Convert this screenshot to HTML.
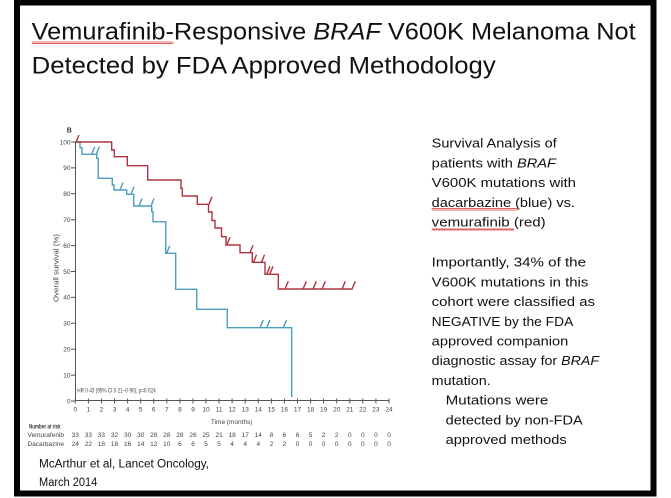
<!DOCTYPE html>
<html><head><meta charset="utf-8">
<style>
html,body{margin:0;padding:0;background:#fff;}
svg{display:block;}
text{font-family:"Liberation Sans",sans-serif;}
</style></head>
<body>
<svg width="671" height="498" viewBox="0 0 671 498" xmlns="http://www.w3.org/2000/svg">
<defs>
<pattern id="sq" x="0" y="0" width="4" height="3" patternUnits="userSpaceOnUse">
<polyline points="0,2.5 1,0.5 2,2.5 3,0.5 4,2.5" fill="none" stroke="#d03030" stroke-width="0.7"/>
</pattern>
</defs>
<rect x="0" y="0" width="671" height="498" fill="#fff"/>
<!-- frame -->
<rect x="17" y="2.5" width="636.5" height="491" fill="none" stroke="#000" stroke-width="6"/>

<!-- title -->
<text x="31.7" y="39.3" font-size="24" fill="#111" textLength="604" lengthAdjust="spacingAndGlyphs">Vemurafinib-Responsive <tspan font-style="italic">BRAF</tspan> V600K Melanoma Not</text>
<text x="31.7" y="73.3" font-size="24" fill="#111" textLength="464" lengthAdjust="spacingAndGlyphs">Detected by FDA Approved Methodology</text>
<rect x="31.7" y="41" width="141.6" height="3" fill="url(#sq)"/>

<!-- right text -->
<g font-size="12.5" fill="#111">
<text x="431.7" y="147.7" textLength="125" lengthAdjust="spacingAndGlyphs">Survival  Analysis of</text>
<text x="431.7" y="167.4" textLength="124.3" lengthAdjust="spacingAndGlyphs">patients with <tspan font-style="italic">BRAF</tspan></text>
<text x="431.7" y="187.1" textLength="144.3" lengthAdjust="spacingAndGlyphs">V600K  mutations  with</text>
<text x="431.7" y="206.8" textLength="143.3" lengthAdjust="spacingAndGlyphs">dacarbazine  (blue) vs.</text>
<text x="431.7" y="226.5" textLength="114" lengthAdjust="spacingAndGlyphs">vemurafinib  (red)</text>
<text x="431.7" y="266.7" textLength="154.3" lengthAdjust="spacingAndGlyphs">Importantly,  34% of the</text>
<text x="431.7" y="286.4" textLength="156.6" lengthAdjust="spacingAndGlyphs">V600K  mutations  in this</text>
<text x="431.7" y="306.1" textLength="163.3" lengthAdjust="spacingAndGlyphs">cohort  were classified as</text>
<text x="431.7" y="325.8" textLength="141.6" lengthAdjust="spacingAndGlyphs">NEGATIVE  by the FDA</text>
<text x="431.7" y="345.5" textLength="136.6" lengthAdjust="spacingAndGlyphs">approved  companion</text>
<text x="431.7" y="365.2" textLength="167.3" lengthAdjust="spacingAndGlyphs">diagnostic assay for <tspan font-style="italic">BRAF</tspan></text>
<text x="431.7" y="384.9" textLength="59" lengthAdjust="spacingAndGlyphs">mutation.</text>
<text x="445.7" y="404.6" textLength="102.6" lengthAdjust="spacingAndGlyphs">Mutations  were</text>
<text x="445.7" y="424.3" textLength="137" lengthAdjust="spacingAndGlyphs">detected  by non-FDA</text>
<text x="445.7" y="444" textLength="121" lengthAdjust="spacingAndGlyphs">approved  methods</text>
</g>
<rect x="431.7" y="208" width="86.6" height="3" fill="url(#sq)"/>
<rect x="431.7" y="228" width="82.3" height="3" fill="url(#sq)"/>

<!-- citation -->
<text x="39" y="467.3" font-size="11.5" fill="#111" textLength="170" lengthAdjust="spacingAndGlyphs">McArthur et al, Lancet Oncology,</text>
<text x="39" y="486" font-size="11.5" fill="#111" textLength="58.3" lengthAdjust="spacingAndGlyphs">March 2014</text>

<!-- chart -->
<text x="66.7" y="132.7" font-size="7" font-weight="bold" fill="#333">B</text>
<text transform="translate(58.5,268) rotate(-90)" text-anchor="middle" font-size="7" fill="#444" textLength="68" lengthAdjust="spacingAndGlyphs">Overall survival (%)</text>

<g stroke="#555" stroke-width="1" fill="none">
<line x1="75.5" y1="142" x2="75.5" y2="401"/>
<line x1="75.5" y1="400.5" x2="389" y2="400.5"/>
<path d="M71 142H75.5M71 167.9H75.5M71 193.8H75.5M71 219.7H75.5M71 245.6H75.5M71 271.5H75.5M71 297.4H75.5M71 323.3H75.5M71 349.2H75.5M71 375.1H75.5M71 401H75.5"/>
<path d="M75.3 398.5V403.5M88.4 398.5V403.5M101.4 398.5V403.5M114.5 398.5V403.5M127.6 398.5V403.5M140.7 398.5V403.5M153.7 398.5V403.5M166.8 398.5V403.5M179.9 398.5V403.5M193 398.5V403.5M206 398.5V403.5M219.1 398.5V403.5M232.1 398.5V403.5M245.2 398.5V403.5M258.3 398.5V403.5M271.4 398.5V403.5M284.4 398.5V403.5M297.5 398.5V403.5M310.6 398.5V403.5M323.6 398.5V403.5M336.7 398.5V403.5M349.8 398.5V403.5M362.8 398.5V403.5M375.9 398.5V403.5M389 398.5V403.5"/>
</g>

<g font-size="6.5" fill="#444" text-anchor="end">
<text x="70.5" y="144.3">100</text>
<text x="70.5" y="170.2">90</text>
<text x="70.5" y="196.1">80</text>
<text x="70.5" y="222">70</text>
<text x="70.5" y="247.9">60</text>
<text x="70.5" y="273.8">50</text>
<text x="70.5" y="299.7">40</text>
<text x="70.5" y="325.6">30</text>
<text x="70.5" y="351.5">20</text>
<text x="70.5" y="377.4">10</text>
<text x="70.5" y="403.3">0</text>
</g>

<g font-size="6.5" fill="#444" text-anchor="middle">
<text x="75.3" y="411.5">0</text><text x="88.4" y="411.5">1</text><text x="101.4" y="411.5">2</text><text x="114.5" y="411.5">3</text><text x="127.6" y="411.5">4</text><text x="140.7" y="411.5">5</text><text x="153.7" y="411.5">6</text><text x="166.8" y="411.5">7</text><text x="179.9" y="411.5">8</text><text x="193" y="411.5">9</text><text x="206" y="411.5">10</text><text x="219.1" y="411.5">11</text><text x="232.1" y="411.5">12</text><text x="245.2" y="411.5">13</text><text x="258.3" y="411.5">14</text><text x="271.4" y="411.5">15</text><text x="284.4" y="411.5">16</text><text x="297.5" y="411.5">17</text><text x="310.6" y="411.5">18</text><text x="323.6" y="411.5">19</text><text x="336.7" y="411.5">20</text><text x="349.8" y="411.5">21</text><text x="362.8" y="411.5">22</text><text x="375.9" y="411.5">23</text><text x="389" y="411.5">24</text>
</g>
<text x="231.7" y="424" font-size="6.5" fill="#444" text-anchor="middle">Time (months)</text>
<text x="77.3" y="392.3" font-size="6" fill="#444" textLength="78.4" lengthAdjust="spacingAndGlyphs">HR 0·43 (95% CI 0·21–0·90); p=0·024</text>

<!-- number at risk -->
<text x="29" y="428.3" font-size="6.5" font-weight="bold" fill="#333" textLength="31.7" lengthAdjust="spacingAndGlyphs">Number at risk</text>
<text x="64" y="437" font-size="6.5" fill="#444" text-anchor="end">Vemurafenib</text>
<text x="64" y="445.8" font-size="6.5" fill="#444" text-anchor="end">Dacarbazine</text>
<g font-size="6.5" fill="#444" text-anchor="middle">
<text y="437"><tspan x="75.3">33</tspan><tspan x="88.4">33</tspan><tspan x="101.4">33</tspan><tspan x="114.5">32</tspan><tspan x="127.6">30</tspan><tspan x="140.7">30</tspan><tspan x="153.7">28</tspan><tspan x="166.8">28</tspan><tspan x="179.9">28</tspan><tspan x="193">26</tspan><tspan x="206">25</tspan><tspan x="219.1">21</tspan><tspan x="232.1">18</tspan><tspan x="245.2">17</tspan><tspan x="258.3">14</tspan><tspan x="271.4">8</tspan><tspan x="284.4">6</tspan><tspan x="297.5">6</tspan><tspan x="310.6">5</tspan><tspan x="323.6">2</tspan><tspan x="336.7">2</tspan><tspan x="349.8">0</tspan><tspan x="362.8">0</tspan><tspan x="375.9">0</tspan><tspan x="389">0</tspan></text>
<text y="445.8"><tspan x="75.3">24</tspan><tspan x="88.4">22</tspan><tspan x="101.4">18</tspan><tspan x="114.5">18</tspan><tspan x="127.6">16</tspan><tspan x="140.7">14</tspan><tspan x="153.7">12</tspan><tspan x="166.8">10</tspan><tspan x="179.9">6</tspan><tspan x="193">6</tspan><tspan x="206">5</tspan><tspan x="219.1">5</tspan><tspan x="232.1">4</tspan><tspan x="245.2">4</tspan><tspan x="258.3">4</tspan><tspan x="271.4">2</tspan><tspan x="284.4">2</tspan><tspan x="297.5">0</tspan><tspan x="310.6">0</tspan><tspan x="323.6">0</tspan><tspan x="336.7">0</tspan><tspan x="349.8">0</tspan><tspan x="362.8">0</tspan><tspan x="375.9">0</tspan><tspan x="389">0</tspan></text>
</g>

<!-- blue curve (dacarbazine) -->
<g stroke="#4c9ebd" stroke-width="1.4" fill="none">
<path d="M75.5 142H80V147.7H82V154.3H96.7V158.3H98.3V178.3H112.3V185H114V190H126.7V194.3H133.7V206H151.7V211.7H153V221.7H165.7V253.3H175.7V289.3H196.7V309.3H227.3V327.7H291.7V397"/>
<path d="M91.7 154.3l3-7.5M96.3 154.3l3-7.5M120 190l3-7.5M131 194.3l3-7.5M139 206l3-7.5M151 206l3-7.5M166.7 253.3l3-7.5M260 327.7l3.3-7.7M266.7 327.7l3.3-7.7M283.3 327.7l3.3-7.7"/>
</g>

<!-- red curve (vemurafenib) -->
<g stroke="#b0343f" stroke-width="1.4" fill="none">
<path d="M75.5 142H111.7V150H114.3V156.7H127.3V165.7H147.7V180H181V188.3H182.3V196H197.3V204.3H208.5V212H212V220.5H215V228H221.5V236.7H226V245H240V252.7H252.3V262.3H265V274.3H278.3V289H352.7"/>
<path d="M76 142l3-7M209 204.3l3-7.5M226.7 245l3.3-7.7M250 252.7l3-7.5M253.5 262.3l3-7.5M261.5 262.3l3-7.5M266.7 274.3l3.3-8M269.7 274.3l3.3-8M285 289l3.3-7.7M303 289l3.3-7.7M313 289l3.3-7.7M322 289l3.3-7.7M342 289l3.3-7.7M352 289l3.3-7.7"/>
</g>
</svg>
</body></html>
